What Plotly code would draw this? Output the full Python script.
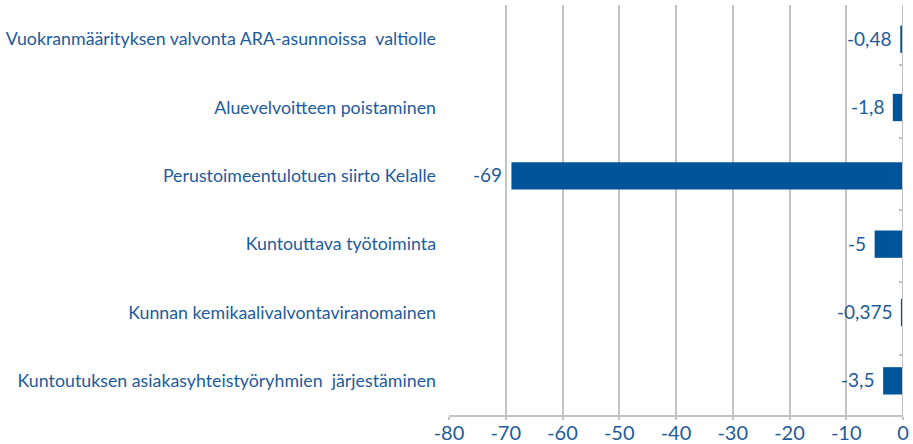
import plotly.graph_objects as go

categories = [
    "Vuokranmäärityksen valvonta ARA-asunnoissa  valtiolle",
    "Aluevelvoitteen poistaminen",
    "Perustoimeentulotuen siirto Kelalle",
    "Kuntouttava työtoiminta",
    "Kunnan kemikaalivalvontaviranomainen",
    "Kuntoutuksen asiakasyhteistyöryhmien  järjestäminen",
]
values = [-0.48, -1.8, -69, -5, -0.375, -3.5]
value_labels = ["-0,48", "-1,8", "-69", "-5", "-0,375", "-3,5"]
tick_vals = [-80, -70, -60, -50, -40, -30, -20, -10, 0]

TEXT = "#1d5b9b"
BAR = "#00559a"
GRID = "#c3c3c3"
FONT = "Lato"

fig = go.Figure()
fig.add_trace(go.Bar(
    y=categories, x=values, orientation="h",
    marker=dict(color=BAR, line=dict(width=0)),
    width=0.4, hoverinfo="x+y",
))
# invisible trace to carry the category boundary ticks on the zero line
fig.add_trace(go.Scatter(
    y=categories, x=[0] * len(categories), yaxis="y2", mode="markers",
    marker=dict(opacity=0), hoverinfo="skip", showlegend=False,
))

for cat, v, lab in zip(categories, values, value_labels):
    fig.add_annotation(
        x=v, y=cat, xref="x", yref="y", text=lab, showarrow=False,
        xanchor="right", yanchor="middle", xshift=-7, yshift=1,
        font=dict(family=FONT, size=19, color=TEXT),
    )

fig.update_layout(
    width=913, height=444,
    margin=dict(l=449, r=10, t=5, b=29),
    paper_bgcolor="white", plot_bgcolor="white",
    showlegend=False,
    font=dict(family=FONT, color=TEXT),
    xaxis=dict(
        range=[-80, 0], tickvals=tick_vals,
        ticktext=[str(v) for v in tick_vals],
        showgrid=True, gridcolor=GRID, gridwidth=2,
        zeroline=False, automargin=False,
        showline=True, linecolor=GRID, linewidth=2,
        ticks="outside", ticklen=3, tickcolor=GRID, tickwidth=2,
        ticklabelstandoff=-4,
        tickfont=dict(family=FONT, size=20, color=TEXT),
        fixedrange=True,
    ),
    yaxis=dict(
        autorange="reversed", automargin=False,
        tickfont=dict(family=FONT, size=17.8, color=TEXT),
        ticks="", ticklabelstandoff=12,
        showgrid=False, zeroline=False, showline=False,
        fixedrange=True,
    ),
    yaxis2=dict(
        overlaying="y", side="right", anchor="x", automargin=False,
        autorange="reversed", tickson="boundaries",
        ticks="inside", ticklen=4, tickcolor=GRID, tickwidth=2,
        showticklabels=False, showgrid=False, zeroline=False,
        showline=False, fixedrange=True,
    ),
)

fig.add_shape(type="line", xref="x", yref="paper", x0=0, x1=0, y0=0, y1=1,
              line=dict(color=GRID, width=2))

fig.write_html("out.html", config={"displayModeBar": False},
               post_script="document.body.style.margin='0';")
